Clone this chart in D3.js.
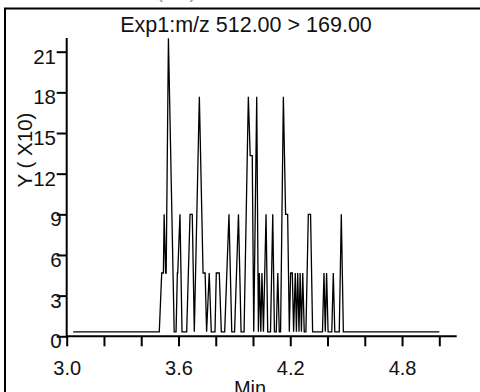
<!DOCTYPE html>
<html>
<head>
<meta charset="utf-8">
<script src="https://cdn.jsdelivr.net/npm/d3@7"></script>
<style>
  html, body { margin: 0; padding: 0; background: #fff; }
  svg { display: block; font-family: "Liberation Sans", Arial, sans-serif; }
</style>
</head>
<body>
<svg id="chart" width="480" height="392"></svg>
<script>
// ---- data ----
const chartTitle = "Exp1:m/z 512.00 > 169.00";
const xLabel = "Min";
const yLabel = "Y ( X10)";
const xTicks = [3.0, 3.2, 3.4, 3.6, 3.8, 4.0, 4.2, 4.4, 4.6, 4.8, 5.0];
const xTickLabels = ["3.0", "3.6", "4.2", "4.8"];
const yTicks = [0, 3, 6, 9, 12, 15, 18, 21];
const time = [3.035, 3.497, 3.510, 3.519, 3.523, 3.531, 3.534, 3.546, 3.577, 3.587,
  3.594, 3.596, 3.608, 3.619, 3.644, 3.662, 3.674, 3.685, 3.712, 3.732,
  3.743, 3.751, 3.765, 3.776, 3.796, 3.803, 3.819, 3.830, 3.848, 3.871,
  3.886, 3.901, 3.922, 3.936, 3.952, 3.975, 3.985, 3.996, 4.004, 4.020,
  4.029, 4.034, 4.042, 4.048, 4.056, 4.070, 4.079, 4.094, 4.106, 4.115,
  4.125, 4.133, 4.141, 4.148, 4.163, 4.175, 4.186, 4.195, 4.202, 4.211,
  4.218, 4.227, 4.233, 4.240, 4.247, 4.253, 4.260, 4.267, 4.275, 4.284,
  4.297, 4.309, 4.320, 4.373, 4.381, 4.388, 4.395, 4.403, 4.423, 4.431,
  4.439, 4.463, 4.474, 4.485, 5.000];
const intensity = [0.33, 0.33, 4.67, 4.67, 9.0, 4.67, 4.67, 22.0, 0.33, 0.33,
  4.67, 4.67, 9.0, 0.33, 0.33, 9.0, 9.0, 0.33, 17.67, 4.67,
  4.67, 0.33, 4.67, 0.33, 0.33, 4.67, 4.67, 0.33, 0.33, 9.0,
  0.33, 0.33, 9.0, 0.33, 0.33, 17.67, 13.33, 13.33, 0.33, 17.67,
  0.33, 4.67, 0.33, 4.67, 0.33, 9.0, 0.33, 0.33, 9.0, 0.33,
  0.33, 4.67, 0.33, 0.33, 17.67, 9.0, 9.0, 0.33, 4.67, 4.67,
  0.33, 4.67, 0.33, 4.67, 0.33, 4.67, 0.33, 4.67, 0.33, 0.33,
  9.0, 9.0, 0.33, 0.33, 4.67, 0.33, 4.67, 0.33, 0.33, 4.67,
  0.33, 0.33, 9.0, 0.33, 0.33];

// ---- drawing ----
const svg = d3.select("#chart");
const x = d3.scaleLinear().domain([3.0, 5.0]).range([66.7, 439.3]);
const y = d3.scaleLinear().domain([0, 21]).range([336.3, 51.7]);

// frame
svg.append("line").attr("x1", 4).attr("x2", 480).attr("y1", 8.5).attr("y2", 8.5)
  .attr("stroke", "#000").attr("stroke-width", 2);
svg.append("line").attr("x1", 5).attr("x2", 5).attr("y1", 8).attr("y2", 392)
  .attr("stroke", "#000").attr("stroke-width", 2);

// header text above frame (clipped by the window edge, as in the reference)
svg.append("text").attr("x", 30).attr("y", -2).attr("fill", "#999")
  .attr("font-size", 20).text("XIC of +MRM (ion)");

// title
svg.append("text").attr("x", 246).attr("y", 31.7).attr("text-anchor", "middle")
  .attr("font-size", 21.5).attr("fill", "#111").text(chartTitle);

// x axis
const xAxis = d3.axisBottom(x).tickValues(xTicks).tickSize(10).tickSizeOuter(0)
  .tickFormat(d => { const s = d.toFixed(1); return xTickLabels.includes(s) ? s : ""; });
const gx = svg.append("g").attr("transform", `translate(0,${y(0)})`).call(xAxis);
gx.select(".domain").remove();
gx.selectAll(".tick line").attr("stroke", "#000").attr("stroke-width", 2);
gx.selectAll(".tick text").attr("y", 39).attr("dy", 0).attr("font-size", 20)
  .attr("font-family", "Liberation Sans, Arial, sans-serif").attr("fill", "#111");
svg.append("line").attr("x1", x(3.0)).attr("x2", 456.7).attr("y1", y(0)).attr("y2", y(0))
  .attr("stroke", "#000").attr("stroke-width", 2);

// y axis
const yAxis = d3.axisLeft(y).tickValues(yTicks).tickSize(10).tickSizeOuter(0).tickFormat(d => String(d));
const gy = svg.append("g").attr("transform", `translate(${x(3.0)},0)`).call(yAxis);
gy.select(".domain").remove();
gy.selectAll(".tick line").attr("stroke", "#000").attr("stroke-width", 2);
gy.selectAll(".tick text").attr("dy", 11.5).attr("font-size", 20.5)
  .attr("font-family", "Liberation Sans, Arial, sans-serif").attr("fill", "#111")
  .attr("x", d => String(d).length > 1 ? -10.7 : -5);
svg.append("line").attr("x1", x(3.0)).attr("x2", x(3.0)).attr("y1", 38).attr("y2", y(0) + 1)
  .attr("stroke", "#000").attr("stroke-width", 2);

// axis titles
svg.append("text").attr("transform", "translate(31.7,150) rotate(-90)")
  .attr("text-anchor", "middle").attr("font-size", 20.5).attr("fill", "#111").text(yLabel);
svg.append("text").attr("x", 250).attr("y", 394.5).attr("text-anchor", "middle")
  .attr("font-size", 20).attr("fill", "#111").text(xLabel);

// trace
const pts = time.map((t, i) => [t, intensity[i]]);
const line = d3.line().x(d => x(d[0])).y(d => y(d[1]));
svg.append("path").datum(pts).attr("d", line).attr("fill", "none")
  .attr("stroke", "#000").attr("stroke-width", 1.3).attr("stroke-linejoin", "miter");
</script>
</body>
</html>
